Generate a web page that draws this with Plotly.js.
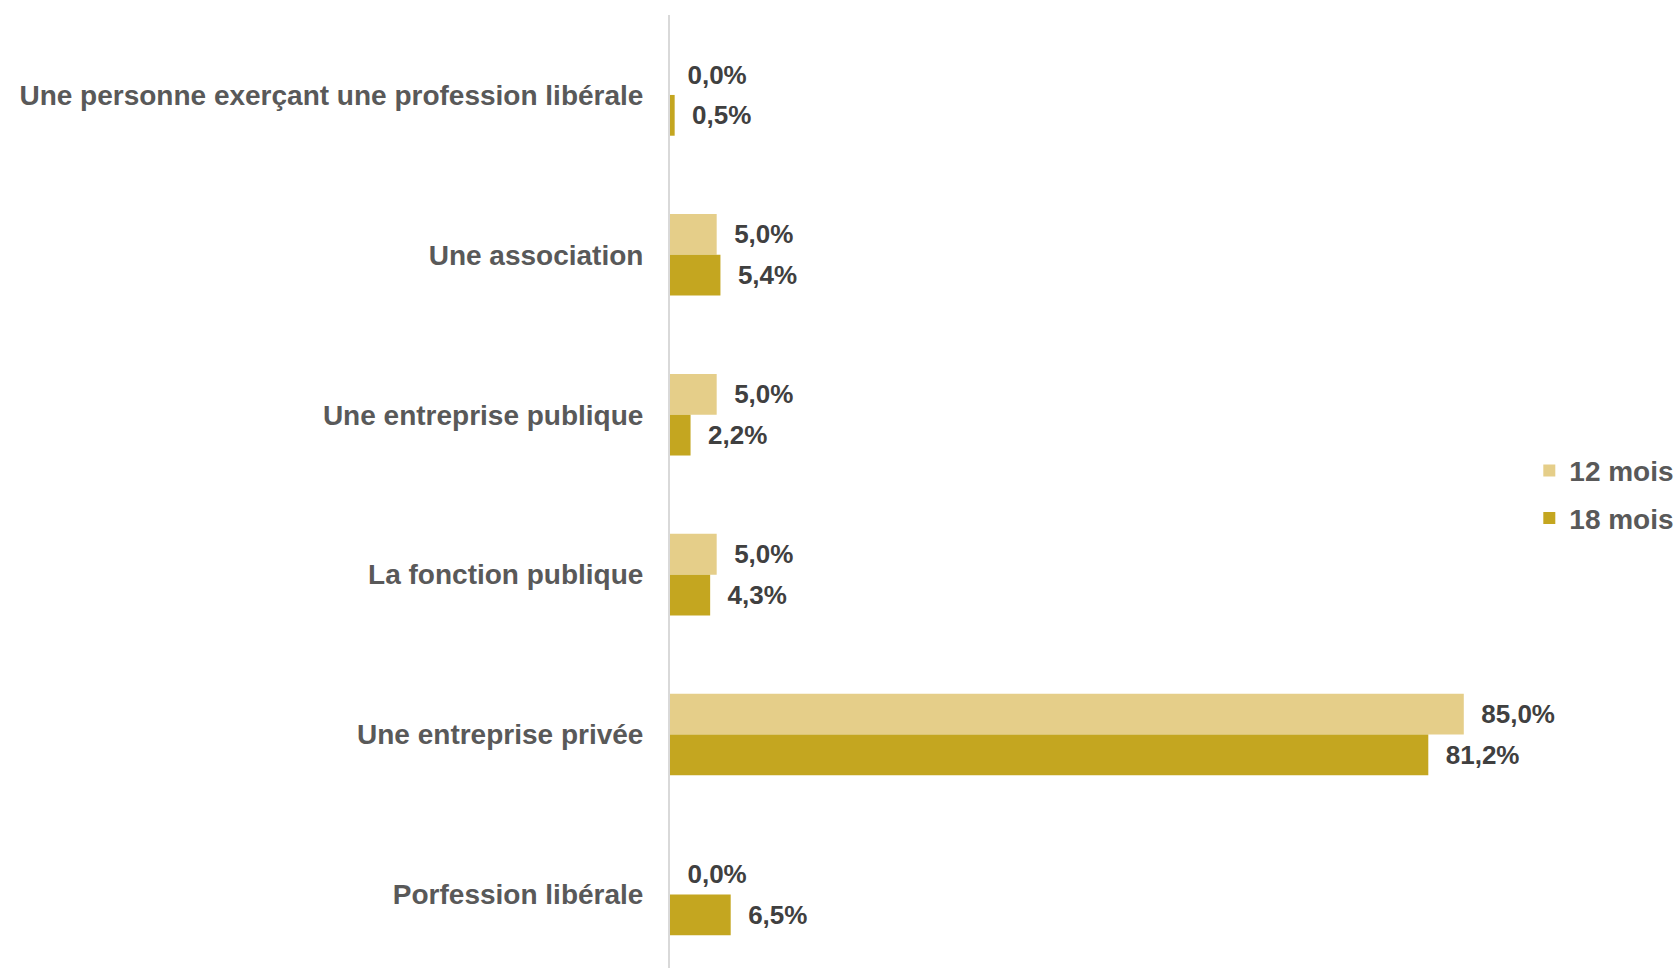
<!DOCTYPE html>
<html>
<head>
<meta charset="utf-8">
<script src="https://cdn.plot.ly/plotly-3.0.1.min.js"></script>
<style>html,body{margin:0;padding:0;background:#fff;}#chart{width:1679px;height:968px;}</style>
</head>
<body>
<div id="chart"></div>
<script>
const categories = [
  "Une personne exerçant une profession libérale",
  "Une association",
  "Une entreprise publique",
  "La fonction publique",
  "Une entreprise privée",
  "Porfession libérale"
];
const seriesNames = ["12 mois", "18 mois"];
const values12 = [0.0, 5.0, 5.0, 5.0, 85.0, 0.0];
const values18 = [0.5, 5.4, 2.2, 4.3, 81.2, 6.5];
const colors = ["#E5CE89", "#C4A620"];

const FONT = '"Liberation Sans", Arial, sans-serif';

function makeTrace(vals, i) {
  return {
    type: 'bar',
    orientation: 'h',
    name: seriesNames[i],
    y: categories,
    x: vals,
    marker: {color: colors[i], line: {width: 0}},
    texttemplate: '\u00A0\u00A0%{x:.1f}%',
    textposition: 'outside',
    constraintext: 'none',
    cliponaxis: false,
    textfont: {family: FONT, size: 26, color: '#404040', weight: 'bold'},
    legendgroup: 'g' + i,
    hoverinfo: 'x+name'
  };
}

const data = [makeTrace(values12, 0), makeTrace(values18, 1)];

const layout = {
  width: 1679,
  height: 968,
  paper_bgcolor: '#ffffff',
  plot_bgcolor: '#ffffff',
  separators: ', ',
  barmode: 'group',
  bargap: 0.49,
  bargroupgap: 0,
  margin: {l: 670, r: 77, t: 15, b: 0, pad: 0, autoexpand: false},
  font: {family: FONT},
  xaxis: {
    range: [0, 99.8],
    showgrid: false,
    zeroline: false,
    showline: false,
    showticklabels: false,
    ticks: '',
    automargin: false
  },
  yaxis: {
    type: 'category',
    range: [5.46, -0.5],
    showgrid: false,
    zeroline: false,
    showline: true,
    linecolor: '#D9D9D9',
    linewidth: 2,
    ticks: '',
    ticklabelstandoff: 19,
    automargin: false,
    tickfont: {family: FONT, size: 28, color: '#595959', weight: 'bold'}
  },
  showlegend: true,
  legend: {
    x: 0.922,
    y: 0.497,
    xanchor: 'left',
    yanchor: 'middle',
    traceorder: 'grouped',
    tracegroupgap: 8,
    font: {family: FONT, size: 28, color: '#595959', weight: 'bold'},
    bgcolor: 'rgba(0,0,0,0)',
    itemwidth: 30
  }
};

Plotly.newPlot('chart', data, layout, {displayModeBar: false, staticPlot: true});
</script>
</body>
</html>
